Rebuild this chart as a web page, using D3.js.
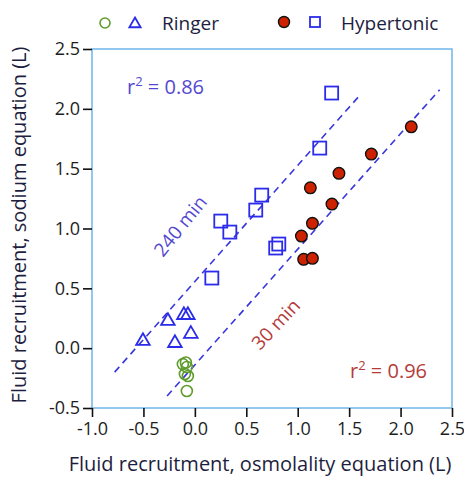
<!DOCTYPE html>
<html>
<head>
<meta charset="utf-8">
<script src="https://cdn.jsdelivr.net/npm/d3@7"></script>
<style>
  body { margin: 0; background: #fff; }
  text { font-family: "Open Sans", sans-serif; }
</style>
</head>
<body>
<div class="chart"></div>
<script>
// Ringer, 240 min (triangles)
const ringer240 = [[-0.505, 0.068], [-0.262, 0.235], [-0.194, 0.051], [-0.107, 0.285], [-0.068, 0.285], [-0.039, 0.127]];
// Ringer, 30 min (open circles)
const ringer30 = [[-0.117, -0.133], [-0.087, -0.12], [-0.078, -0.158], [-0.097, -0.216], [-0.068, -0.233], [-0.078, -0.358]];
// Hypertonic, 240 min (squares)
const hyper240 = [[0.165, 0.586], [0.252, 1.062], [0.340, 0.970], [0.592, 1.154], [0.650, 1.279], [0.786, 0.837], [0.816, 0.870], [1.214, 1.672], [1.330, 2.132]];
// Hypertonic, 30 min (filled circles)
const hyper30 = [[2.104, 1.850], [1.716, 1.622], [1.401, 1.461], [1.123, 1.340], [1.333, 1.204], [1.143, 1.043], [1.036, 0.937], [1.058, 0.742], [1.143, 0.751]];
// regression lines (end points)
const fit240 = [[-0.78, -0.20], [1.59, 2.10]];
const fit30 = [[-0.27, -0.40], [2.38, 2.16]];
const ticks = [-1.0, -0.5, 0.0, 0.5, 1.0, 1.5, 2.0, 2.5];
const yTicks = [-0.5, 0.0, 0.5, 1.0, 1.5, 2.0, 2.5];

const W = 464, H = 480;
const margin = {top: 49, right: 12, bottom: 72, left: 92};
const width = W - margin.left - margin.right;
const height = H - margin.top - margin.bottom;

const svg = d3.select('.chart').append('svg')
    .attr('width', W).attr('height', H);
const g = svg.append('g').attr('transform', `translate(${margin.left},${margin.top})`);

const x = d3.scaleLinear().domain([-1, 2.5]).range([0, width]);
const y = d3.scaleLinear().domain([-0.5, 2.5]).range([height, 0]);

const blue = '#2b2bea';
const lineBlue = '#3737dc';
const ink = '#1e1e40';

// frame
g.append('rect')
    .attr('x', 0).attr('y', 0).attr('width', width).attr('height', height)
    .attr('fill', 'none').attr('stroke', '#6fb6ea').attr('stroke-width', 1.5);

// axes
const xAxis = g.append('g')
    .attr('transform', `translate(0,${height})`)
    .call(d3.axisBottom(x).tickValues(ticks).tickSize(9).tickPadding(5));
const yAxis = g.append('g')
    .call(d3.axisLeft(y).tickValues(yTicks).tickSize(9).tickPadding(3));
[xAxis, yAxis].forEach(a => {
    a.select('.domain').remove();
    a.selectAll('line').attr('stroke', '#111').attr('stroke-width', 1.6);
    a.selectAll('text').attr('font-size', 18).attr('fill', '#1e1e1e')
        .attr('font-family', '"Open Sans", sans-serif')
        .text(d => d3.format('.1f')(d).replace('−', '-'));
});

// regression lines
const line = d3.line().x(d => x(d[0])).y(d => y(d[1]));
[fit240, fit30].forEach(f => {
    g.append('path').attr('d', line(f))
        .attr('fill', 'none').attr('stroke', lineBlue)
        .attr('stroke-width', 1.6).attr('stroke-dasharray', '7,5');
});

// markers
g.selectAll('.r30').data(ringer30).enter().append('circle')
    .attr('cx', d => x(d[0])).attr('cy', d => y(d[1])).attr('r', 5.5)
    .attr('fill', 'none').attr('stroke', '#5e9c2e').attr('stroke-width', 1.6);

const tri = d3.symbol().type(d3.symbolTriangle).size(80);
g.selectAll('.r240').data(ringer240).enter().append('path')
    .attr('d', tri)
    .attr('transform', d => `translate(${x(d[0])},${y(d[1]) + 1})`)
    .attr('fill', 'none').attr('stroke', blue).attr('stroke-width', 1.8);

g.selectAll('.h240').data(hyper240).enter().append('rect')
    .attr('x', d => x(d[0]) - 6.5).attr('y', d => y(d[1]) - 6.5)
    .attr('width', 13).attr('height', 13)
    .attr('fill', 'none').attr('stroke', blue).attr('stroke-width', 1.8);

g.selectAll('.h30').data(hyper30).enter().append('circle')
    .attr('cx', d => x(d[0])).attr('cy', d => y(d[1])).attr('r', 5.8)
    .attr('fill', '#cc2200').attr('stroke', '#111').attr('stroke-width', 1.4);

// annotations
const purple = '#5548d0';
const brick = '#b43c3c';
g.append('text').attr('x', 35).attr('y', 45).attr('fill', purple).attr('font-size', 20)
    .html('r<tspan dy="-8" font-size="13">2</tspan><tspan dy="8"> = 0.86</tspan>');
g.append('text').attr('x', 258).attr('y', 329).attr('fill', brick).attr('font-size', 20)
    .html('r<tspan dy="-8" font-size="13">2</tspan><tspan dy="8"> = 0.96</tspan>');
g.append('text').attr('transform', 'translate(71,209) rotate(-51)')
    .attr('fill', purple).attr('font-size', 19).text('240 min');
g.append('text').attr('transform', 'translate(168,302) rotate(-47)')
    .attr('fill', brick).attr('font-size', 19).text('30 min');

// axis titles
svg.append('text').attr('x', 260).attr('y', 471).attr('text-anchor', 'middle')
    .attr('font-size', 20).attr('fill', ink)
    .text('Fluid recruitment, osmolality equation (L)');
svg.append('text').attr('transform', 'translate(26,225) rotate(-90)').attr('text-anchor', 'middle')
    .attr('font-size', 20).attr('fill', ink)
    .text('Fluid recruitment, sodium equation (L)');

// legend
const lg = svg.append('g');
lg.append('circle').attr('cx', 105).attr('cy', 23).attr('r', 5)
    .attr('fill', 'none').attr('stroke', '#5e9c2e').attr('stroke-width', 1.6);
lg.append('path').attr('d', d3.symbol().type(d3.symbolTriangle).size(55))
    .attr('transform', 'translate(135,24)')
    .attr('fill', 'none').attr('stroke', blue).attr('stroke-width', 1.8);
lg.append('text').attr('x', 162).attr('y', 30).attr('font-size', 19).attr('fill', ink).text('Ringer');
lg.append('circle').attr('cx', 284).attr('cy', 22).attr('r', 5.5)
    .attr('fill', '#cc2200').attr('stroke', '#111').attr('stroke-width', 1.4);
lg.append('rect').attr('x', 310).attr('y', 17).attr('width', 10).attr('height', 10)
    .attr('fill', 'none').attr('stroke', blue).attr('stroke-width', 1.8);
lg.append('text').attr('x', 341).attr('y', 30).attr('font-size', 19).attr('fill', ink).text('Hypertonic');
</script>
</body>
</html>
